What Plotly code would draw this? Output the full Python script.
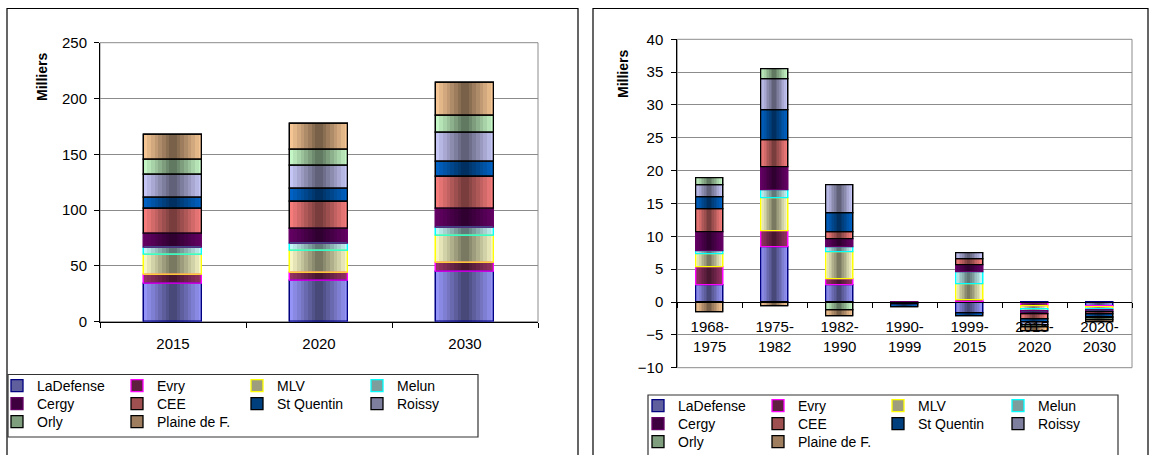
import numpy as np
import plotly.graph_objects as go

W, H = 1154, 455

# ---------------- data ----------------
series_names = ["LaDefense", "Evry", "MLV", "Melun", "Cergy", "CEE",
                "St Quentin", "Roissy", "Orly", "Plaine de F."]
fill_colors = ["#9999FF", "#993366", "#FFFFCC", "#CCFFFF", "#660066",
               "#FF8080", "#0066CC", "#CCCCFF", "#CCFFCC", "#FFCC99"]
line_colors = ["#000080", "#FF00FF", "#FFFF00", "#00FFFF", "#660066",
               "#000000", "#000000", "#000000", "#000000", "#000000"]

# left chart: totals (milliers)
years = ["2015", "2020", "2030"]
ladefense_total = [34.3, 36.7, 44.8]
evry_total = [7.5, 7.5, 8.3]
mlv_total = [17.9, 19.4, 24.0]
melun_total = [6.3, 6.0, 7.4]
cergy_total = [13.1, 13.4, 16.5]
cee_total = [21.9, 24.5, 28.7]
stquentin_total = [10.1, 11.7, 13.9]
roissy_total = [20.9, 20.6, 26.0]
orly_total = [12.9, 14.0, 15.0]
plaine_total = [22.4, 23.6, 29.6]

# right chart: variations (milliers)
periods = ["1968-<br>1975", "1975-<br>1982", "1982-<br>1990", "1990-<br>1999",
           "1999-<br>2015", "2015-<br>2020", "2020-<br>2030"]
ladefense_change = [2.6, 8.4, 2.6, 0.0, -1.7, -0.25, -0.6]
evry_change = [2.7, 2.4, 0.85, 0.0, 0.25, -0.35, -0.2]
mlv_change = [1.95, 5.0, 4.05, 0.0, 2.4, -0.55, -0.3]
melun_change = [0.4, 1.2, 0.8, 0.0, 1.8, -0.3, -0.2]
cergy_change = [3.0, 3.55, 1.2, -0.35, 1.1, -0.4, -0.3]
cee_change = [3.45, 4.05, 1.05, 0.0, 0.9, -0.75, -0.3]
stquentin_change = [1.8, 4.6, 2.9, -0.5, -0.5, -0.5, -0.35]
roissy_change = [1.9, 4.7, 4.3, 0.0, 1.0, -0.4, -0.25]
orly_change = [1.05, 1.5, -1.3, 0.0, 0.0, -0.3, -0.25]
plaine_change = [-1.6, -0.7, -0.9, 0.0, 0.0, -0.7, -0.4]

left_values = [ladefense_total, evry_total, mlv_total, melun_total, cergy_total,
               cee_total, stquentin_total, roissy_total, orly_total, plaine_total]
right_values = [ladefense_change, evry_change, mlv_change, melun_change, cergy_change,
                cee_change, stquentin_change, roissy_change, orly_change, plaine_change]

FONT = "Arial, Liberation Sans, sans-serif"
N_STRIPS = 16


def hex_rgb(h):
    h = h.lstrip("#")
    return [int(h[i:i + 2], 16) for i in (0, 2, 4)]


def shade(h, f):
    r, g, b = hex_rgb(h)
    return "rgb(%d,%d,%d)" % (round(r * f), round(g * f), round(b * f))


def stack_bases(vals):
    arr = np.array(vals, dtype=float)
    pos = np.zeros(arr.shape[1])
    neg = np.zeros(arr.shape[1])
    bases = np.zeros_like(arr)
    for s in range(arr.shape[0]):
        v = arr[s]
        bases[s] = np.where(v >= 0, pos, neg)
        pos += np.where(v > 0, v, 0)
        neg += np.where(v < 0, v, 0)
    return arr, bases


def add_stack(fig, cats, vals, bw, xa, ya, legends):
    arr, bases = stack_bases(vals)
    S, C = arr.shape
    # legend layer (hidden underneath the gradient strips)
    for s in range(S):
        y = [v if v != 0 else None for v in arr[s]]
        fig.add_trace(go.Bar(
            x=cats, y=y, base=bases[s], offset=-bw / 2, width=bw,
            name=series_names[s], legend=legends[s // 4], xaxis=xa, yaxis=ya,
            marker=dict(color=shade(fill_colors[s], 0.62),
                        line=dict(color=line_colors[s], width=1.3)),
            hoverinfo="skip"))
    fx, fy, fb, fc, flc = [], [], [], [], []
    for s in range(S):
        for c in range(C):
            if arr[s, c] != 0:
                fx.append(cats[c]); fy.append(arr[s, c]); fb.append(bases[s, c])
                fc.append(fill_colors[s]); flc.append(line_colors[s])
    # gradient strips
    sw = bw / N_STRIPS
    for i in range(N_STRIPS):
        t = (i + 0.5) / N_STRIPS
        f = 1 - 0.56 * (1 - abs(2 * t - 1))
        w = sw * 1.15 if i < N_STRIPS - 1 else sw
        fig.add_trace(go.Bar(
            x=fx, y=fy, base=fb, offset=-bw / 2 + i * sw, width=w,
            xaxis=xa, yaxis=ya, showlegend=False, hoverinfo="skip",
            marker=dict(color=[shade(c, f) for c in fc], line=dict(width=0))))
    # outlines
    fig.add_trace(go.Bar(
        x=fx, y=fy, base=fb, offset=-bw / 2, width=bw,
        xaxis=xa, yaxis=ya, showlegend=False, hoverinfo="skip",
        marker=dict(color="rgba(0,0,0,0)", line=dict(color=flc, width=1.3))))


fig = go.Figure()
add_stack(fig, years, left_values, 0.40, "x", "y", ["legend", "legend2", "legend3"])
add_stack(fig, periods, right_values, 0.41, "x2", "y2", ["legend4", "legend5", "legend6"])


# geometry (pixels -> paper)
def px(p):
    return p / W


def py(p):
    return 1 - p / H


L_top, L_bot, L_left, L_right = 42.7, 321.7, 100, 538
R_top, R_bot, R_left, R_right = 39.3, 367.7, 677.3, 1132
R_zero = R_top + (40 / 50) * (R_bot - R_top)

axis_common = dict(showline=True, linecolor="black", linewidth=1, ticks="outside",
                   ticklen=5, tickcolor="black", tickwidth=1,
                   tickfont=dict(family=FONT, size=15, color="black"))


def row_legend(x_text, y_center):
    return dict(orientation="h", x=px(x_text - 40), y=py(y_center),
                xanchor="left", yanchor="middle", xref="paper", yref="paper",
                entrywidth=75, entrywidthmode="pixels", traceorder="normal",
                font=dict(family=FONT, size=14, color="black"),
                bgcolor="rgba(0,0,0,0)", borderwidth=0)


fig.update_layout(
    width=W, height=H, autosize=False,
    margin=dict(l=0, r=0, t=0, b=0, autoexpand=False),
    paper_bgcolor="white", plot_bgcolor="white",
    barmode="overlay", bargap=0,
    font=dict(family=FONT, size=14, color="black"),
    xaxis=dict(domain=[px(L_left), px(L_right)], anchor="y", type="category",
               range=[-0.5, 2.5], tickson="boundaries", showgrid=False,
               ticklabelstandoff=8, **axis_common),
    yaxis=dict(domain=[py(L_bot), py(L_top)], anchor="x", range=[0, 250], dtick=50,
               showgrid=True, gridcolor="#8c8c8c", gridwidth=1, zeroline=False,
               ticklabelstandoff=4, **axis_common),
    xaxis2=dict(domain=[px(R_left), px(R_right)], anchor="free", position=py(R_zero),
                type="category", range=[-0.5, 6.5], tickson="boundaries",
                showgrid=False, ticklabelstandoff=11, **axis_common),
    yaxis2=dict(domain=[py(R_bot), py(R_top)], anchor="x2", range=[-10, 40], dtick=5,
                showgrid=True, gridcolor="#8c8c8c", gridwidth=1, zeroline=False,
                ticklabelstandoff=5, **axis_common),
    legend=row_legend(37, 386),
    legend2=row_legend(37, 404),
    legend3=row_legend(37, 422),
    legend4=row_legend(678, 406),
    legend5=row_legend(678, 424),
    legend6=row_legend(678, 442),
    showlegend=True,
)

shapes = [
    # chart area borders
    dict(type="rect", xref="paper", yref="paper", x0=px(7), x1=px(578), y0=-0.2, y1=py(8.5),
         line=dict(color="black", width=1.2), layer="below"),
    dict(type="rect", xref="paper", yref="paper", x0=px(593), x1=px(1148), y0=-0.2, y1=py(8.5),
         line=dict(color="black", width=1.2), layer="below"),
    # plot area borders
    dict(type="rect", xref="x domain", yref="y domain", x0=0, x1=1, y0=0, y1=1,
         line=dict(color="#8c8c8c", width=1), layer="below"),
    dict(type="rect", xref="x2 domain", yref="y2 domain", x0=0, x1=1, y0=0, y1=1,
         line=dict(color="#8c8c8c", width=1), layer="below"),
    # legend boxes
    dict(type="rect", xref="paper", yref="paper", x0=px(8), x1=px(478), y0=py(437), y1=py(374.5),
         line=dict(color="#333333", width=1.2), layer="below"),
    dict(type="rect", xref="paper", yref="paper", x0=px(648), x1=px(1118), y0=-0.2, y1=py(395),
         line=dict(color="#333333", width=1.2), layer="below"),
]
fig.update_layout(shapes=shapes)

fig.add_annotation(text="<b>Milliers</b>", x=px(42), y=py(77), xref="paper", yref="paper",
                   xanchor="center", yanchor="middle", textangle=-90, showarrow=False,
                   font=dict(family=FONT, size=14, color="black"))
fig.add_annotation(text="<b>Milliers</b>", x=px(623), y=py(74), xref="paper", yref="paper",
                   xanchor="center", yanchor="middle", textangle=-90, showarrow=False,
                   font=dict(family=FONT, size=14, color="black"))

fig.write_html("out.html", config={"displayModeBar": False},
               post_script="document.body.style.margin='0px';")
